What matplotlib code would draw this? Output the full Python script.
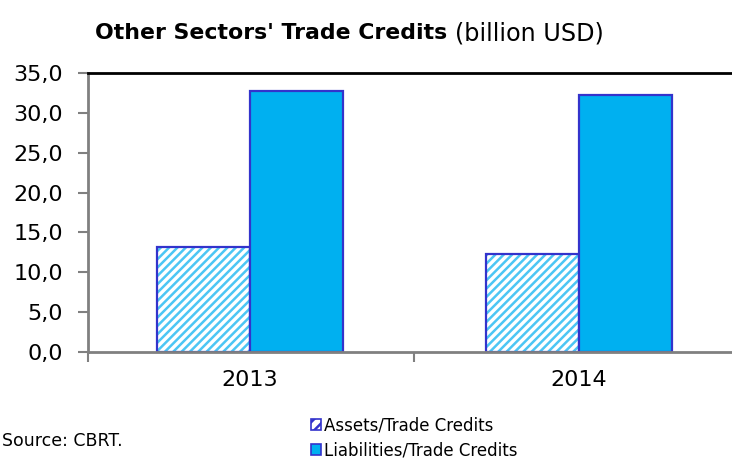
import numpy as np
import matplotlib
matplotlib.use("Agg")
from matplotlib import pyplot as plt
import matplotlib.patches as mpatches
from matplotlib.ticker import FuncFormatter, FixedLocator

years = ['2013', '2014']
assets = [13.2, 12.3]
liabilities = [32.7, 32.2]
series_names = ['Assets/Trade Credits', 'Liabilities/Trade Credits']

plt.rcParams['font.family'] = ['DejaVu Sans']
plt.rcParams['hatch.linewidth'] = 1.8

fill = '#00B0F0'
edge = '#3333CC'
grey = '#808080'

fig = plt.figure(figsize=(7.32, 4.59), dpi=100)
ax = fig.add_axes([0.1202, 0.2331, 0.8798, 0.6078])

x = np.arange(len(years))
w = 0.283

# hatched assets bars: stripes first, outline on top
ax.bar(x - w / 2, assets, w, color='white', edgecolor='#4CC6F4', hatch='////', linewidth=0)
ax.bar(x - w / 2, assets, w, color='none', edgecolor=edge, linewidth=1.6)
ax.bar(x + w / 2, liabilities, w, color=fill, edgecolor=edge, linewidth=1.6)

ax.set_xlim(-0.492, 1.465)
ax.set_ylim(0, 35)
ax.set_yticks(np.arange(0, 36, 5))
ax.yaxis.set_major_formatter(FuncFormatter(lambda v, p: ('%.1f' % v).replace('.', ',')))
ax.set_xticks(x)
ax.set_xticklabels(years)
ax.xaxis.set_minor_locator(FixedLocator([-0.492, 0.5]))

ax.tick_params(axis='y', colors=grey, labelcolor='black', labelsize=16, length=7, width=1.5, pad=11)
ax.tick_params(axis='x', which='major', length=0, labelsize=16, pad=13)
ax.tick_params(axis='x', which='minor', colors=grey, length=7, width=1.5)

for s in ['left', 'bottom']:
    ax.spines[s].set_color(grey)
    ax.spines[s].set_linewidth(2)
ax.spines['right'].set_visible(False)
ax.spines['top'].set_color('black')
ax.spines['top'].set_linewidth(2)

# title: bold part followed by unit in regular weight
t1 = fig.text(0.13, 0.928, "Other Sectors' Trade Credits", fontsize=15.8, fontweight='bold', va='center')
fig.canvas.draw()
bb = t1.get_window_extent(fig.canvas.get_renderer())
fig.text(bb.x1 / fig.bbox.width + 0.011, 0.928, '(billion USD)', fontsize=17.2, va='center')

# legend boxes
h1 = mpatches.Patch(facecolor='white', edgecolor=edge, hatch='///', linewidth=1.2)
h2 = mpatches.Patch(facecolor=fill, edgecolor=edge, linewidth=1.2)
fig.legend([h1, h2], series_names, loc='lower left', bbox_to_anchor=(0.405, -0.034),
           frameon=False, fontsize=12, handlelength=0.6, handleheight=0.6,
           handletextpad=0.15, labelspacing=0.45)

fig.text(0.003, 0.04, 'Source: CBRT.', fontsize=12.5, va='center')

plt.savefig('out.png', dpi=100)
